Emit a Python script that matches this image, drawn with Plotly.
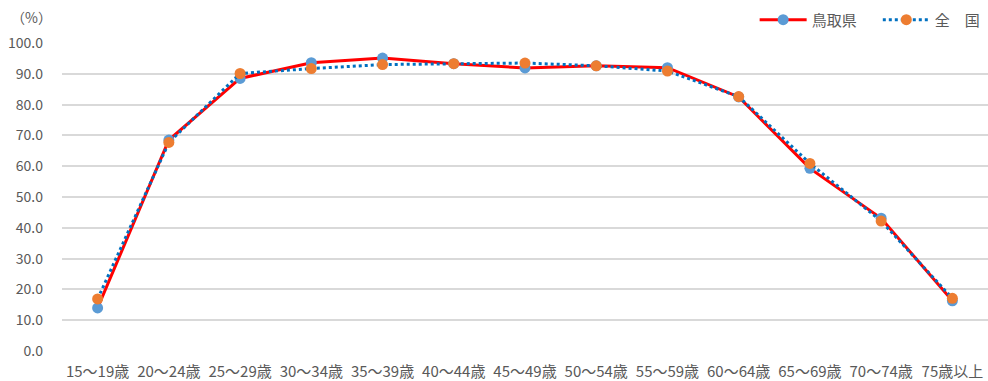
import plotly.graph_objects as go

# Age groups on the x axis
age_groups = ["15～19歳", "20～24歳", "25～29歳", "30～34歳", "35～39歳", "40～44歳",
              "45～49歳", "50～54歳", "55～59歳", "60～64歳", "65～69歳", "70～74歳", "75歳以上"]

# Labour force participation rate (%)
tottori = [14.0, 68.5, 88.5, 93.6, 95.1, 93.3, 91.9, 92.6, 92.0, 82.5, 59.3, 43.1, 16.3]
national = [16.9, 67.7, 90.1, 91.7, 93.0, 93.3, 93.5, 92.6, 90.9, 82.6, 60.9, 42.2, 17.1]

y_ticks = [0, 10, 20, 30, 40, 50, 60, 70, 80, 90, 100]

FONT = "Noto Sans CJK JP"
GREY = "#595959"

fig = go.Figure()
fig.add_trace(go.Scatter(
    x=age_groups, y=tottori, name="鳥取県", mode="lines+markers",
    line=dict(color="#ff0000", width=3),
    marker=dict(color="#5b9bd5", size=11),
    legend="legend",
))
fig.add_trace(go.Scatter(
    x=age_groups, y=national, name="全　国", mode="lines+markers",
    line=dict(color="#0070c0", width=3, dash="dot"),
    marker=dict(color="#ed7d31", size=11),
    legend="legend2",
))

legend_style = dict(orientation="h", xanchor="left", y=1.075, yanchor="middle",
                    font=dict(size=15, color=GREY), itemwidth=47,
                    bgcolor="rgba(0,0,0,0)")

fig.update_layout(
    width=988, height=381,
    margin=dict(l=62, r=0, t=43, b=30),
    paper_bgcolor="white", plot_bgcolor="white",
    font=dict(family=FONT, color=GREY, size=13),
    showlegend=True,
    legend=dict(x=0.748, **legend_style),
    legend2=dict(x=0.881, **legend_style),
    xaxis=dict(type="category", range=[-0.5, 12.5], showgrid=False, zeroline=False,
               showline=False, ticks="", ticklabelstandoff=10, automargin=False,
               tickfont=dict(size=15, color=GREY)),
    yaxis=dict(range=[0, 100], tickvals=y_ticks, ticktext=[f"{v:.1f}" for v in y_ticks],
               showgrid=True, gridcolor="#d9d9d9", gridwidth=1.5, zeroline=False,
               showline=False, ticks="", ticklabelstandoff=18, automargin=False,
               tickfont=dict(size=14, color=GREY)),
    annotations=[dict(text="（%）", x=-0.033, y=1.085, xref="paper", yref="paper",
                      xanchor="center", yanchor="middle", showarrow=False,
                      font=dict(size=14, color=GREY, family=FONT))],
)

fig.write_html("out.html")
